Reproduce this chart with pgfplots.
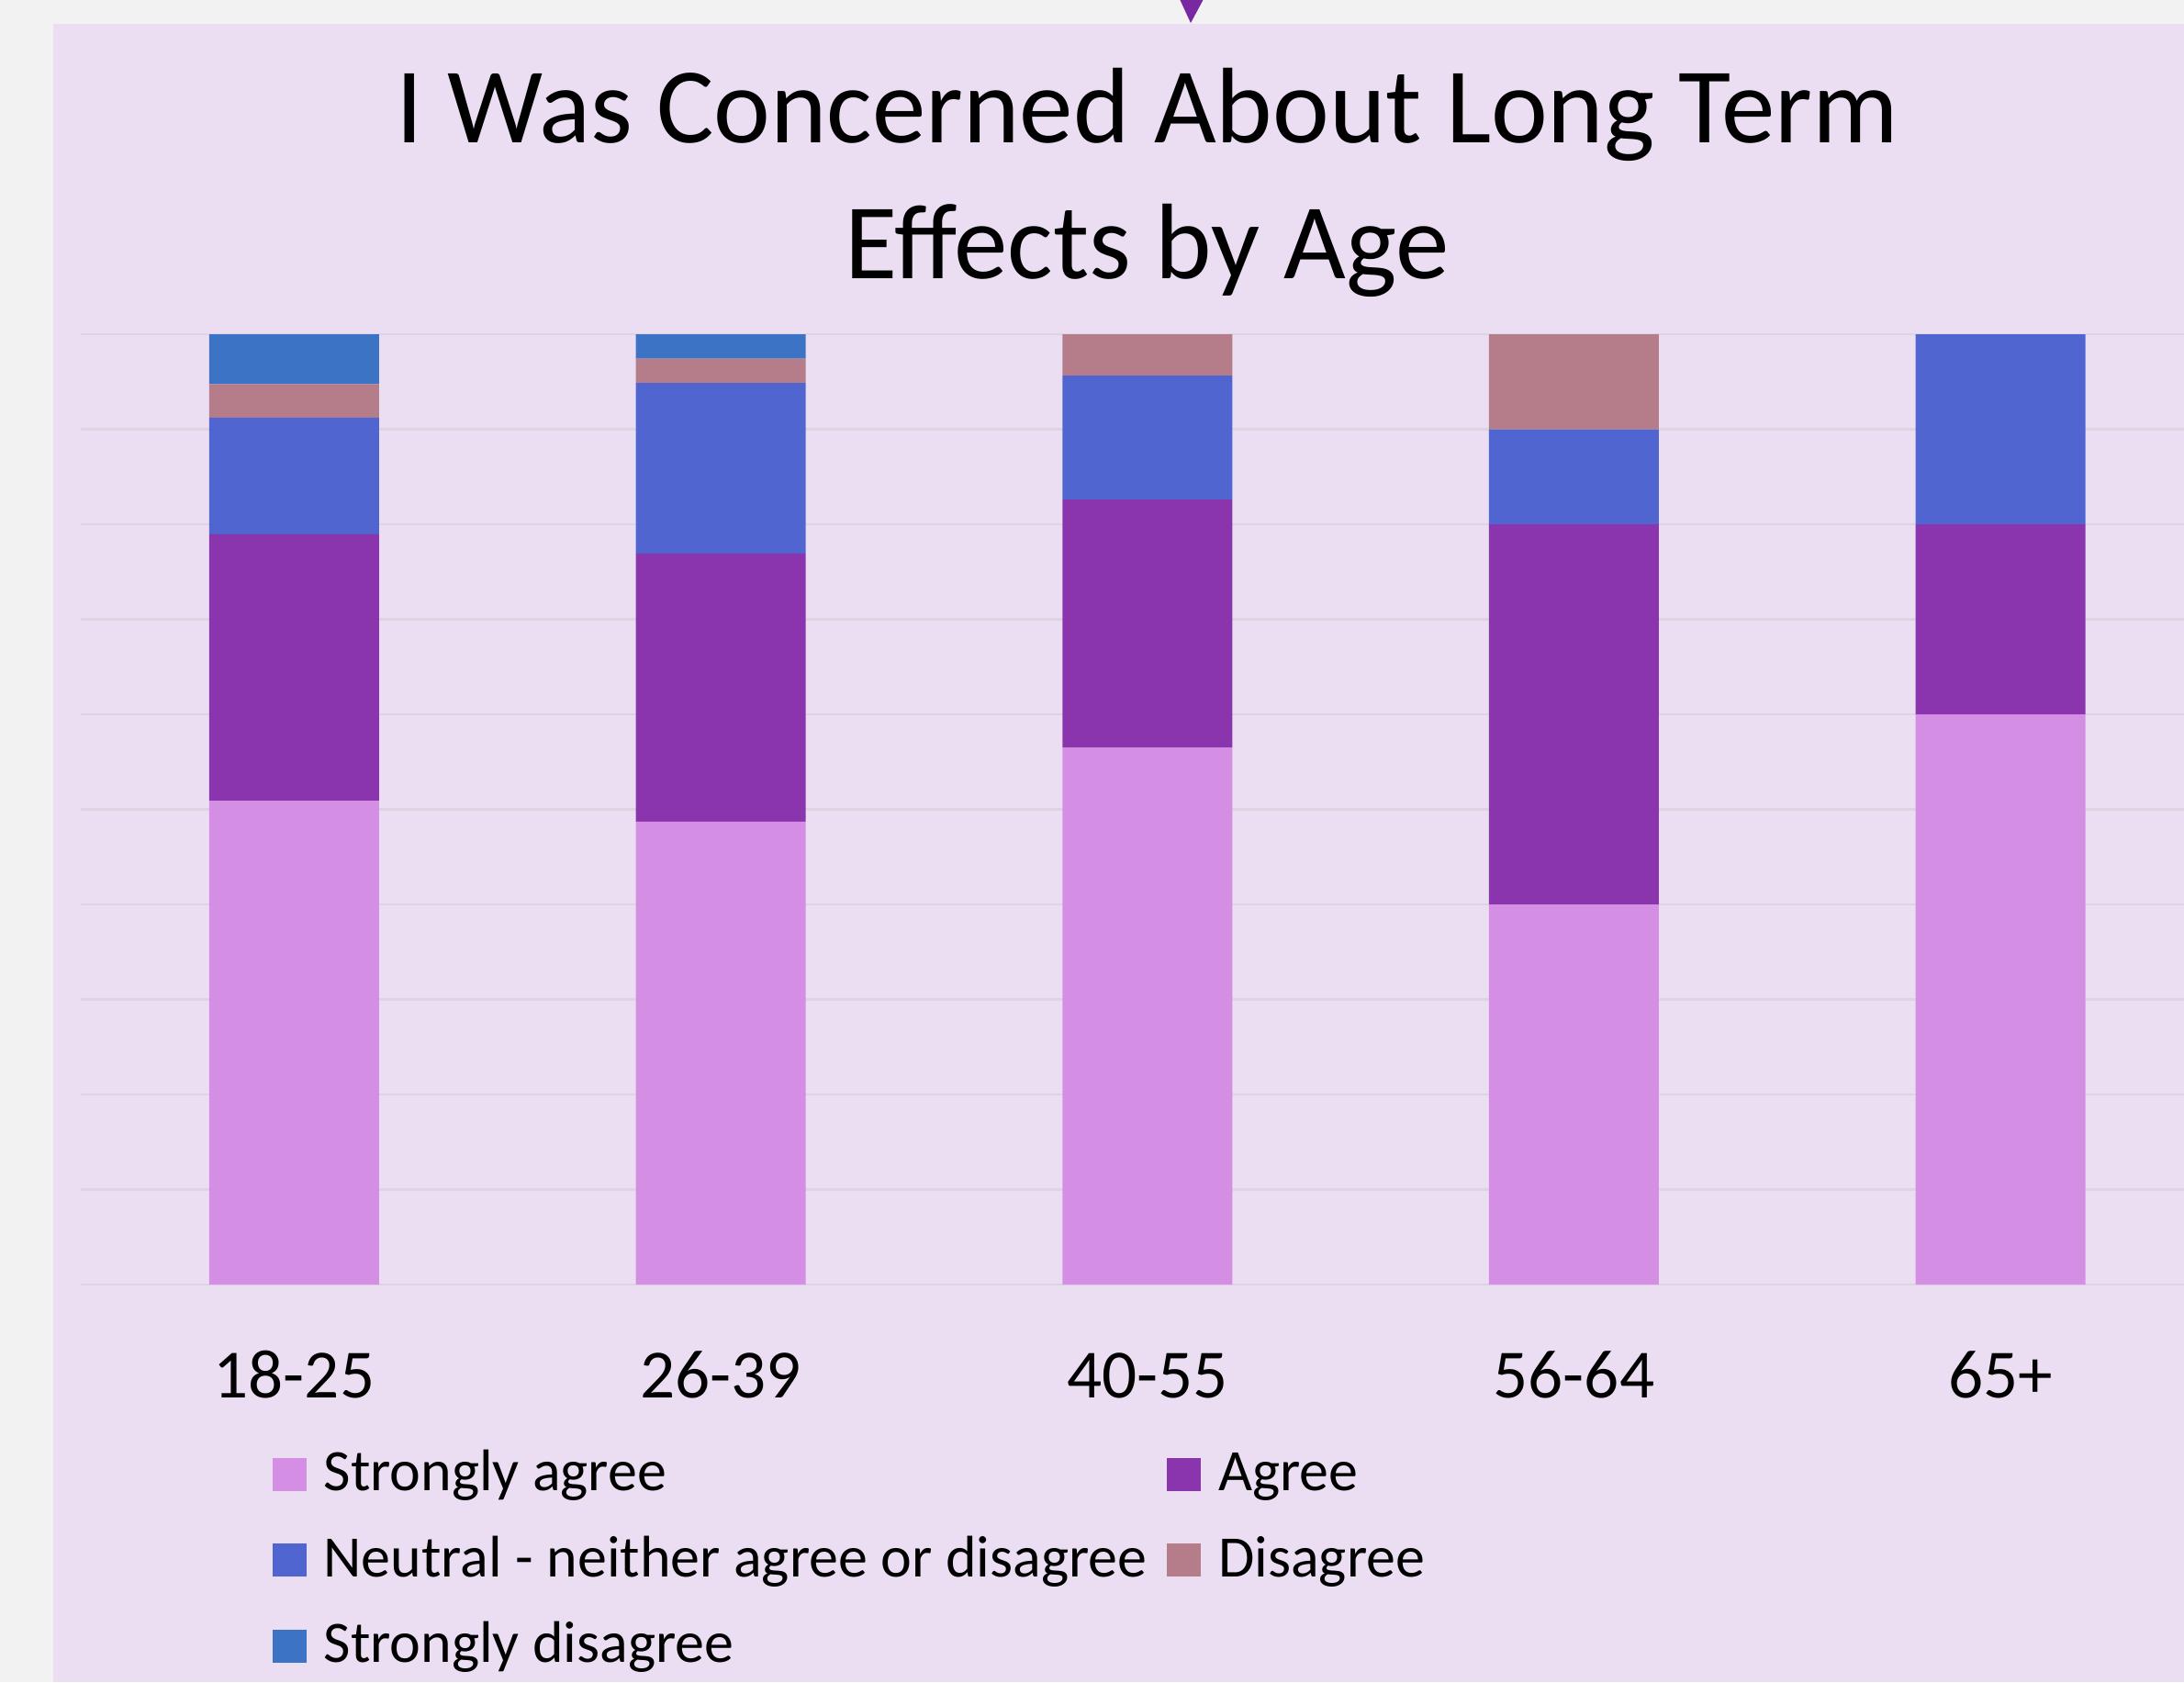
\documentclass[border=0pt]{standalone}
\usepackage{fontspec}
\setmainfont{Carlito}
\usepackage{pgfplots}
\pgfplotsset{compat=1.18}
\definecolor{bgout}{RGB}{242,242,242}
\definecolor{bgchart}{RGB}{235,222,243}
\definecolor{gridc}{RGB}{220,212,225}
\definecolor{cSA}{RGB}{212,142,228}
\definecolor{cA}{RGB}{138,53,174}
\definecolor{cN}{RGB}{80,101,207}
\definecolor{cD}{RGB}{181,124,137}
\definecolor{cSD}{RGB}{60,115,196}
\definecolor{tri}{RGB}{120,40,160}
\begin{document}
\begin{tikzpicture}[x=1cm,y=1cm]
\useasboundingbox (0,0) rectangle (23.79,-18.32);
\clip (0,0) rectangle (23.79,-18.32);
\fill[bgout] (0,0) rectangle (23.79,-18.32);
\fill[bgchart] (0.58,-0.257) rectangle (23.79,-18.32);
\fill[tri] (12.85,0.01) -- (13.11,0.01) -- (12.97,-0.25) -- cycle;
\begin{axis}[
  at={(0.88cm,-13.99cm)}, anchor=south west,
  scale only axis, width=23.235cm, height=10.35cm,
  ybar stacked, bar width=1.85cm,
  xmin=-0.5, xmax=4.5, ymin=0, ymax=100,
  xtick={0,1,2,3,4}, xticklabels={18-25,26-39,40-55,56-64,65+},
  ytick={0,10,...,100}, yticklabels={},
  ymajorgrids, grid style={gridc, line width=0.6pt},
  axis line style={draw=none}, major tick length=0pt,
  xticklabel style={font=\fontsize{21.4pt}{26pt}\selectfont, anchor=base, yshift=-1.23cm},
  title={I Was Concerned About Long Term\\Effects by Age},
  title style={font=\fontsize{33.3pt}{42pt}\selectfont, align=center, anchor=south, inner sep=0pt, at={(0.5,1)}, yshift=0.19cm},
  legend columns=2,
  legend style={at={(0.0895,-0.1729)}, anchor=north west, draw=none, fill=none, inner sep=0pt,
    font=\fontsize{18.2pt}{22pt}\selectfont, row sep=0.365cm,
    cells={anchor=base west},
    nodes={inner sep=0pt, text height=0.45cm, text depth=0.12cm},
    /tikz/every odd column/.append style={column sep=0.19cm},
    /tikz/every even column/.append style={column sep=0.22cm}},
  legend image code/.code={\fill[#1] (0cm,0cm) rectangle (0.37cm,0.36cm);},
  every axis plot/.append style={draw=none},
]
\addplot[fill=cSA] coordinates {(0,50.88) (1,48.72) (2,56.52) (3,40) (4,60)};
\addplot[fill=cA] coordinates {(0,28.07) (1,28.21) (2,26.09) (3,40) (4,20)};
\addplot[fill=cN] coordinates {(0,12.28) (1,17.95) (2,13.04) (3,10) (4,20)};
\addplot[fill=cD] coordinates {(0,3.51) (1,2.56) (2,4.35) (3,10) (4,0)};
\addplot[fill=cSD] coordinates {(0,5.26) (1,2.56) (2,0) (3,0) (4,0)};
\legend{Strongly agree, Agree, Neutral - neither agree or disagree, Disagree, Strongly disagree}
\end{axis}
\end{tikzpicture}
\end{document}
